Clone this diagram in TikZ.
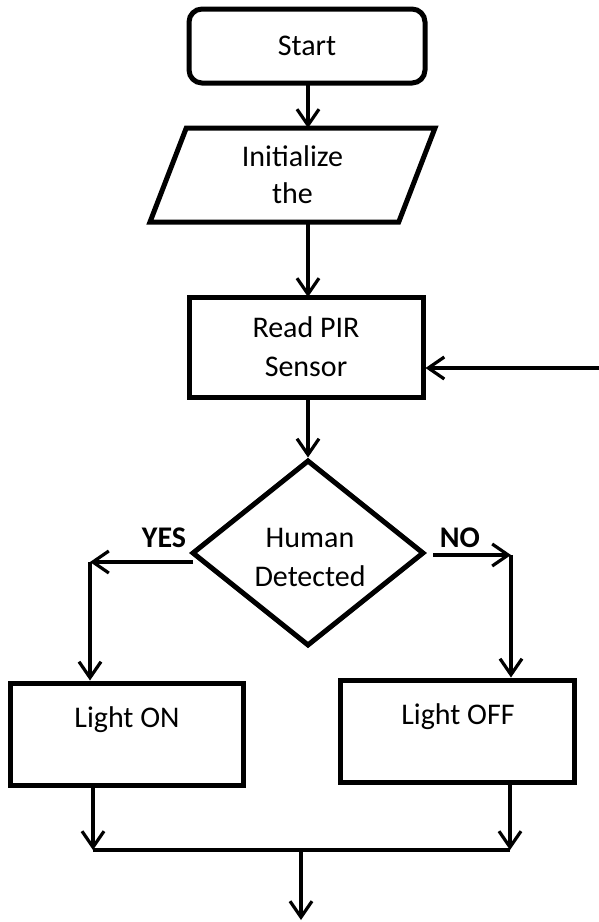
\documentclass[tikz,border=0pt]{standalone}
\usepackage{fontspec}
\setmainfont{Carlito}
\usetikzlibrary{arrows.meta,shapes.geometric}
\begin{document}
\begin{tikzpicture}[x=1pt,y=-1pt,
  every node/.style={font=\fontsize{30}{37}\selectfont, align=center, inner sep=0pt},
  box/.style={draw, line width=5pt, minimum width=#1, minimum height=100pt},
  conn/.style={line width=3.2pt, -{Straight Barb[length=16pt,width=22pt,line width=3.2pt]}},
  plain/.style={line width=3.2pt},
  lbl/.style={font=\fontsize{30}{37}\selectfont\bfseries}]
\useasboundingbox (0,0) rectangle (599,922);

\node[draw, line width=5pt, rounded corners=13pt, minimum width=236pt, minimum height=74pt] (start) at (307,46) {Start};
\node[draw, line width=5pt, trapezium, trapezium left angle=58, trapezium right angle=122,
      trapezium stretches body, minimum width=285pt, minimum height=94pt] (init) at (292.5,175) {Initialize\\the};
\node[box=234pt] (read) at (306,347) {Read PIR\\[2pt]Sensor};
\node[draw, line width=5pt, diamond, aspect=1.25, minimum width=232pt, minimum height=186pt] (dia) at (308,553) {};
\node at (310,557) {Human\\[2pt]Detected};
\node[box=233pt, minimum height=102pt] (on) at (126.5,734) {};
\node at (127,720) {Light ON};
\node[box=234pt, minimum height=102pt] (off) at (457,731) {};
\node at (458,717) {Light OFF};

\node[lbl] at (164,538) {YES};
\node[lbl] at (460,538) {NO};

\coordinate (a1) at (308,82);
\coordinate (a2) at (308,128);
\coordinate (b1) at (308,222);
\coordinate (b2) at (308,297);
\coordinate (fb) at (599,368);
\coordinate (yl) at (90,562);
\coordinate (ys) at (193,562);
\coordinate (ns) at (433,555);
\coordinate (nr) at (511,555);
\coordinate (jl) at (93,850);
\coordinate (jr) at (510,850);
\coordinate (jm) at (301,851);
\coordinate (fin) at (301,920);

\draw[conn] (a1) -- (a2);
\draw[conn] (b1) -- (b2);
\draw[conn] (read.south -| dia.north) -- (dia.north);
\draw[conn] (fb) -- (fb -| read.east);
\draw[conn] (ys) -- (yl);
\draw[conn] (yl) -- (yl |- on.north);
\draw[conn] (ns) -- (nr);
\draw[conn] (nr) -- (nr |- off.north);
\draw[conn] (jl |- on.south) -- (jl);
\draw[conn] (jr |- off.south) -- (jr);
\draw[plain] (jl) -- (jr);
\draw[conn] (jm) -- (fin);
\end{tikzpicture}
\end{document}
